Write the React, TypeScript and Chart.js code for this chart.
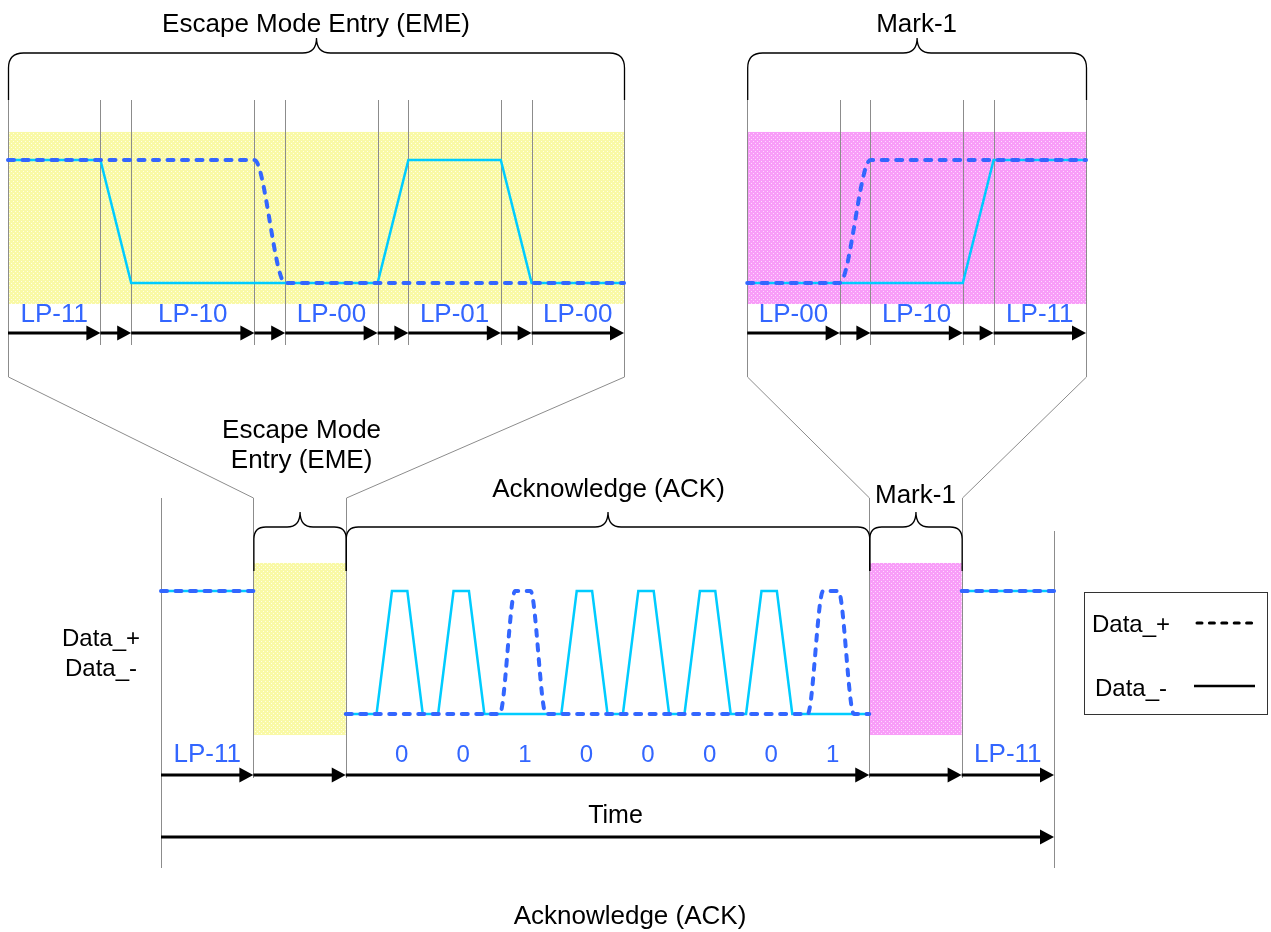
import { useEffect, useRef } from 'react';
import { Chart, registerables } from 'chart.js';

Chart.register(...registerables);

const W = 1271;
const H = 932;

// ---------------- data ----------------
// Zoomed insets (shared time axis "xTop"): EME zoom occupies 0..20, Mark-1 zoom 24..35
const EME_BOUNDS = [0, 3, 4, 8, 9, 12, 13, 16, 17, 20];
const EME_STATES = ['LP-11', 'LP-10', 'LP-00', 'LP-01', 'LP-00'];
const MARK_BOUNDS = [24, 27, 28, 31, 32, 35];
const MARK_STATES = ['LP-00', 'LP-10', 'LP-11'];

const EME_DATA_P = [[0, 1], [8, 1], [9, 0], [20, 0]];
const EME_DATA_M = [[0, 1], [3, 1], [4, 0], [12, 0], [13, 1], [16, 1], [17, 0], [20, 0]];
const MARK_DATA_P = [[24, 0], [27, 0], [28, 1], [35, 1]];
const MARK_DATA_M = [[24, 0], [31, 0], [32, 1], [35, 1]];

// Overview timeline (axis "xBot")
const BOT_BOUNDS = [0, 6, 12, 46, 52, 58];
const BOT_TITLES = ['', 'Escape Mode\nEntry (EME)', 'Acknowledge (ACK)', 'Mark-1', ''];
const BOT_STATES = ['LP-11', '', '', '', 'LP-11'];

const LP11_START = [[0, 1], [6, 1]];
const LP11_END = [[52, 1], [58, 1]];
const ACK_DATA_M = [
  [12, 0], [14, 0], [15, 1], [16, 1], [17, 0],
  [18, 0], [19, 1], [20, 1], [21, 0],
  [26, 0], [27, 1], [28, 1], [29, 0],
  [30, 0], [31, 1], [32, 1], [33, 0],
  [34, 0], [35, 1], [36, 1], [37, 0],
  [38, 0], [39, 1], [40, 1], [41, 0],
  [46, 0],
];
const ACK_DATA_P = [
  [12, 0], [22, 0], [23, 1], [24, 1], [25, 0],
  [42, 0], [43, 1], [44, 1], [45, 0], [46, 0],
];
const ACK_BIT_TIMES = [15.5, 19.5, 23.5, 27.5, 31.5, 35.5, 39.5, 43.5];
const ACK_BITS = ['0', '0', '1', '0', '0', '0', '0', '1'];

const SHADE_LEVELS = [-0.171, 1.228];

// ---------------- layout ----------------
const TOP_X0 = 8;
const TOP_UNIT = 30.8;
const BOT_X0 = 161;
const BOT_UNIT = 15.397;
const TOP_LOW_Y = 283;
const BOT_LOW_Y = 714;
const LEVEL_PX = 123;

const ROW = {
  title: 32, topBrace: 53, topTip: 38, guideStart: 100, topLabel: 322, topArrow: 333,
  topInnerEnd: 345, topOuterEnd: 377, diagEnd: 498, rightStart: 531,
  midEsc1: 438, midEsc2: 468, midAck: 497, midMark: 503,
  botBrace: 527, botTip: 512, botLeg: 571, botLabel: 762, botArrow: 775, botInnerEnd: 778,
  timeLabel: 823, timeArrow: 837, botOuterEnd: 868, footer: 924,
};

const FONT = '"Liberation Sans", Arial, Helvetica, sans-serif';
const BLUE = '#3366FF';
const CYAN = '#00CCFF';
const GUIDE = '#8C8C8C';

const toXY = (pts: number[][]) => pts.map(([x, y]) => ({ x, y }));

function makePattern(ctx: CanvasRenderingContext2D, base: string, dot: string) {
  const c = document.createElement('canvas');
  c.width = 4;
  c.height = 4;
  const g = c.getContext('2d')!;
  g.fillStyle = base;
  g.fillRect(0, 0, 4, 4);
  g.fillStyle = dot;
  g.fillRect(1, 1, 1, 1);
  g.fillRect(3, 3, 1, 1);
  return ctx.createPattern(c, 'repeat')!;
}

function brace(ctx: CanvasRenderingContext2D, x1: number, x2: number, yl: number, tip: number, leg: number, r: number, c: number) {
  const xm = (x1 + x2) / 2;
  ctx.beginPath();
  ctx.moveTo(x1, leg);
  ctx.lineTo(x1, yl + r);
  ctx.quadraticCurveTo(x1, yl, x1 + r, yl);
  ctx.lineTo(xm - c, yl);
  ctx.quadraticCurveTo(xm, yl, xm, tip);
  ctx.quadraticCurveTo(xm, yl, xm + c, yl);
  ctx.lineTo(x2 - r, yl);
  ctx.quadraticCurveTo(x2, yl, x2, yl + r);
  ctx.lineTo(x2, leg);
  ctx.stroke();
}

function arrow(ctx: CanvasRenderingContext2D, x1: number, x2: number, y: number) {
  ctx.beginPath();
  ctx.moveTo(x1, y);
  ctx.lineTo(x2 - 8, y);
  ctx.strokeStyle = '#000';
  ctx.lineWidth = 3;
  ctx.stroke();
  ctx.beginPath();
  ctx.moveTo(x2, y);
  ctx.lineTo(x2 - 14, y - 7.5);
  ctx.lineTo(x2 - 14, y + 7.5);
  ctx.closePath();
  ctx.fillStyle = '#000';
  ctx.fill();
}

function text(ctx: CanvasRenderingContext2D, s: string, x: number, y: number, size: number, color: string, align: CanvasTextAlign = 'center') {
  ctx.font = `${size}px ${FONT}`;
  ctx.fillStyle = color;
  ctx.textAlign = align;
  ctx.textBaseline = 'alphabetic';
  ctx.fillText(s, x, y);
}

function vline(ctx: CanvasRenderingContext2D, x: number, y1: number, y2: number) {
  const xx = Math.round(x) + 0.5;
  ctx.beginPath();
  ctx.moveTo(xx, y1);
  ctx.lineTo(xx, y2);
  ctx.stroke();
}

const diagramPlugin = {
  id: 'diagram',
  beforeDatasetsDraw(chart: any) {
    const ctx: CanvasRenderingContext2D = chart.ctx;
    const xt = (v: number) => chart.scales.xTop.getPixelForValue(v);
    const xb = (v: number) => chart.scales.xBot.getPixelForValue(v);
    const yt = (v: number) => chart.scales.yTop.getPixelForValue(v);
    const yb = (v: number) => chart.scales.yBot.getPixelForValue(v);
    const yellow = makePattern(ctx, '#F9F9A6', '#FFFFE6');
    const pink = makePattern(ctx, '#F89DF8', '#FFD8FF');
    ctx.save();
    const rect = (x1: number, x2: number, yA: number, yB: number, p: CanvasPattern) => {
      ctx.fillStyle = p;
      ctx.fillRect(x1, yA, x2 - x1, yB - yA);
    };
    const [lo, hi] = SHADE_LEVELS;
    rect(xt(EME_BOUNDS[0]), xt(EME_BOUNDS[EME_BOUNDS.length - 1]), yt(hi), yt(lo), yellow);
    rect(xt(MARK_BOUNDS[0]), xt(MARK_BOUNDS[MARK_BOUNDS.length - 1]), yt(hi), yt(lo), pink);
    rect(xb(BOT_BOUNDS[1]), xb(BOT_BOUNDS[2]), yb(hi), yb(lo), yellow);
    rect(xb(BOT_BOUNDS[3]), xb(BOT_BOUNDS[4]), yb(hi), yb(lo), pink);

    // guide lines
    ctx.strokeStyle = GUIDE;
    ctx.lineWidth = 1;
    [EME_BOUNDS, MARK_BOUNDS].forEach((b) => {
      b.forEach((t, i) => {
        const outer = i === 0 || i === b.length - 1;
        vline(ctx, xt(t), ROW.guideStart, outer ? ROW.topOuterEnd : ROW.topInnerEnd);
      });
    });
    const diag = (xa: number, xbb: number) => {
      ctx.beginPath();
      ctx.moveTo(Math.round(xa) + 0.5, ROW.topOuterEnd);
      ctx.lineTo(Math.round(xbb) + 0.5, ROW.diagEnd);
      ctx.stroke();
    };
    diag(xt(EME_BOUNDS[0]), xb(BOT_BOUNDS[1]));
    diag(xt(EME_BOUNDS[EME_BOUNDS.length - 1]), xb(BOT_BOUNDS[2]));
    diag(xt(MARK_BOUNDS[0]), xb(BOT_BOUNDS[3]));
    diag(xt(MARK_BOUNDS[MARK_BOUNDS.length - 1]), xb(BOT_BOUNDS[4]));
    BOT_BOUNDS.forEach((t, i) => {
      if (i === 0) vline(ctx, xb(t), ROW.diagEnd, ROW.botOuterEnd);
      else if (i === BOT_BOUNDS.length - 1) vline(ctx, xb(t), ROW.rightStart, ROW.botOuterEnd);
      else vline(ctx, xb(t), ROW.diagEnd, ROW.botInnerEnd);
    });
    ctx.restore();
  },
  afterDatasetsDraw(chart: any) {
    const ctx: CanvasRenderingContext2D = chart.ctx;
    const xt = (v: number) => chart.scales.xTop.getPixelForValue(v);
    const xb = (v: number) => chart.scales.xBot.getPixelForValue(v);
    ctx.save();

    // braces
    ctx.strokeStyle = '#000';
    ctx.lineWidth = 1.3;
    brace(ctx, xt(EME_BOUNDS[0]) + 0.5, xt(EME_BOUNDS[EME_BOUNDS.length - 1]) + 0.5, ROW.topBrace, ROW.topTip, ROW.guideStart, 15, 14);
    brace(ctx, xt(MARK_BOUNDS[0]) + 0.5, xt(MARK_BOUNDS[MARK_BOUNDS.length - 1]) + 0.5, ROW.topBrace, ROW.topTip, ROW.guideStart, 15, 14);
    for (let i = 1; i <= 3; i++) {
      brace(ctx, xb(BOT_BOUNDS[i]) + 0.5, xb(BOT_BOUNDS[i + 1]) + 0.5, ROW.botBrace, ROW.botTip, ROW.botLeg, 12, 13);
    }

    // titles
    text(ctx, 'Escape Mode Entry (EME)', xt((EME_BOUNDS[0] + EME_BOUNDS[EME_BOUNDS.length - 1]) / 2), ROW.title, 26, '#000');
    text(ctx, 'Mark-1', xt((MARK_BOUNDS[0] + MARK_BOUNDS[MARK_BOUNDS.length - 1]) / 2), ROW.title, 26, '#000');
    const midX = (i: number) => xb((BOT_BOUNDS[i] + BOT_BOUNDS[i + 1]) / 2);
    const esc = BOT_TITLES[1].split('\n');
    text(ctx, esc[0], midX(1) + 2, ROW.midEsc1, 26, '#000');
    text(ctx, esc[1], midX(1) + 2, ROW.midEsc2, 26, '#000');
    text(ctx, BOT_TITLES[2], midX(2) + 1, ROW.midAck, 26, '#000');
    text(ctx, BOT_TITLES[3], midX(3), ROW.midMark, 26, '#000');

    // state labels + arrows in insets
    const insetRow = (b: number[], states: string[]) => {
      states.forEach((s, k) => {
        const a = b[2 * k];
        const e = b[2 * k + 1];
        text(ctx, s, xt((a + e) / 2), ROW.topLabel, 26, BLUE);
      });
      for (let i = 0; i < b.length - 1; i++) arrow(ctx, xt(b[i]), xt(b[i + 1]), ROW.topArrow);
    };
    insetRow(EME_BOUNDS, EME_STATES);
    insetRow(MARK_BOUNDS, MARK_STATES);

    // overview labels + arrows
    for (let i = 0; i < BOT_BOUNDS.length - 1; i++) {
      if (BOT_STATES[i]) text(ctx, BOT_STATES[i], midX(i), ROW.botLabel, 26, BLUE);
      arrow(ctx, xb(BOT_BOUNDS[i]), xb(BOT_BOUNDS[i + 1]), ROW.botArrow);
    }
    ACK_BITS.forEach((b, i) => text(ctx, b, xb(ACK_BIT_TIMES[i]) + 2, ROW.botLabel, 24, BLUE));
    text(ctx, 'Time', xb((BOT_BOUNDS[0] + BOT_BOUNDS[BOT_BOUNDS.length - 1]) / 2) + 8, ROW.timeLabel, 25, '#000');
    arrow(ctx, xb(BOT_BOUNDS[0]), xb(BOT_BOUNDS[BOT_BOUNDS.length - 1]), ROW.timeArrow);

    text(ctx, 'Data_+', 101, 646, 24, '#000');
    text(ctx, 'Data_-', 101, 676, 24, '#000');
    text(ctx, 'Acknowledge (ACK)', 630, ROW.footer, 26, '#000');

    // legend
    ctx.strokeStyle = '#333';
    ctx.lineWidth = 1;
    ctx.strokeRect(1084.5, 592.5, 183, 122);
    text(ctx, 'Data_+', 1092, 632, 24, '#000', 'left');
    text(ctx, 'Data_-', 1095, 696, 24, '#000', 'left');
    ctx.strokeStyle = '#000';
    ctx.lineWidth = 3;
    ctx.lineCap = 'round';
    ctx.setLineDash([5, 7.4]);
    ctx.beginPath();
    ctx.moveTo(1197, 623);
    ctx.lineTo(1255, 623);
    ctx.stroke();
    ctx.setLineDash([]);
    ctx.lineCap = 'butt';
    ctx.lineWidth = 2.5;
    ctx.beginPath();
    ctx.moveTo(1194, 686);
    ctx.lineTo(1255, 686);
    ctx.stroke();
    ctx.restore();
  },
};

const dashStyle = {
  borderColor: BLUE,
  borderWidth: 4,
  borderDash: [6, 8.5],
  borderCapStyle: 'round',
  borderJoinStyle: 'round',
  cubicInterpolationMode: 'monotone',
  pointRadius: 0,
  fill: false,
  order: 0,
};
const solidStyle = {
  borderColor: CYAN,
  borderWidth: 2.5,
  borderCapStyle: 'round',
  borderJoinStyle: 'miter',
  pointRadius: 0,
  fill: false,
  tension: 0,
  order: 1,
};

export default function App() {
  const ref = useRef<HTMLCanvasElement | null>(null);
  useEffect(() => {
    if (!ref.current) return;
    const top = { xAxisID: 'xTop', yAxisID: 'yTop' };
    const bot = { xAxisID: 'xBot', yAxisID: 'yBot' };
    const chart = new Chart(ref.current, {
      type: 'line',
      data: {
        datasets: [
          { label: 'EME Data_+', data: toXY(EME_DATA_P), ...top, ...dashStyle },
          { label: 'Mark-1 Data_+', data: toXY(MARK_DATA_P), ...top, ...dashStyle },
          { label: 'LP-11 Data_+', data: toXY(LP11_START), ...bot, ...dashStyle },
          { label: 'ACK Data_+', data: toXY(ACK_DATA_P), ...bot, ...dashStyle },
          { label: 'LP-11 end Data_+', data: toXY(LP11_END), ...bot, ...dashStyle },
          { label: 'EME Data_-', data: toXY(EME_DATA_M), ...top, ...solidStyle },
          { label: 'Mark-1 Data_-', data: toXY(MARK_DATA_M), ...top, ...solidStyle },
          { label: 'LP-11 Data_-', data: toXY(LP11_START), ...bot, ...solidStyle },
          { label: 'ACK Data_-', data: toXY(ACK_DATA_M), ...bot, ...solidStyle },
          { label: 'LP-11 end Data_-', data: toXY(LP11_END), ...bot, ...solidStyle },
        ] as any,
      },
      options: {
        responsive: false,
        animation: false,
        devicePixelRatio: 1,
        events: [],
        layout: { padding: 0 },
        plugins: { legend: { display: false }, tooltip: { enabled: false }, title: { display: false } },
        scales: {
          xTop: { type: 'linear', axis: 'x', display: false, min: -TOP_X0 / TOP_UNIT, max: (W - TOP_X0) / TOP_UNIT },
          xBot: { type: 'linear', axis: 'x', display: false, min: -BOT_X0 / BOT_UNIT, max: (W - BOT_X0) / BOT_UNIT },
          yTop: { type: 'linear', axis: 'y', display: false, min: (TOP_LOW_Y - H) / LEVEL_PX, max: TOP_LOW_Y / LEVEL_PX },
          yBot: { type: 'linear', axis: 'y', display: false, min: (BOT_LOW_Y - H) / LEVEL_PX, max: BOT_LOW_Y / LEVEL_PX },
        } as any,
      },
      plugins: [diagramPlugin as any],
    });
    return () => chart.destroy();
  }, []);
  return (
    <div style={{ position: 'absolute', left: 0, top: 0, width: W, height: H, background: '#fff' }}>
      <canvas ref={ref} width={W} height={H} style={{ display: 'block', width: W, height: H }} />
    </div>
  );
}
